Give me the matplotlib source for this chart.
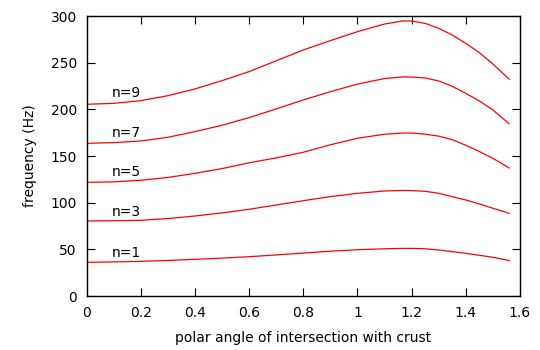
import matplotlib
matplotlib.use("Agg")
import matplotlib.pyplot as plt

angle = [0.0, 0.1, 0.2, 0.3, 0.4, 0.5, 0.6, 0.7, 0.8, 0.9, 1.0, 1.1, 1.17, 1.2, 1.25, 1.3, 1.35, 1.4, 1.45, 1.5, 1.56]
n1 = [36.1, 36.5, 37.1, 38.1, 39.3, 40.6, 42.1, 44.0, 46.0, 48.0, 49.6, 50.6, 51.0, 51.0, 50.6, 49.3, 47.5, 45.7, 43.6, 41.5, 38.0]
n3 = [80.4, 80.6, 81.1, 83.0, 85.7, 89.0, 92.9, 97.5, 102.1, 106.5, 110.0, 112.5, 113.1, 112.9, 112.2, 110.0, 106.4, 102.9, 98.6, 94.0, 88.6]
n5 = [121.8, 122.3, 124.0, 127.0, 131.4, 136.5, 142.7, 148.0, 154.0, 162.0, 169.0, 173.3, 174.6, 174.6, 173.4, 171.3, 167.5, 161.5, 154.8, 147.5, 137.2]
n7 = [163.6, 164.3, 166.1, 170.0, 176.1, 182.9, 191.1, 200.4, 210.0, 218.9, 227.0, 233.0, 234.8, 234.6, 233.6, 230.4, 224.6, 217.1, 209.0, 199.3, 184.5]
n9 = [205.4, 206.4, 209.3, 214.6, 221.8, 230.7, 240.4, 252.0, 263.6, 273.6, 283.2, 291.4, 294.8, 294.6, 292.1, 286.8, 279.6, 270.7, 260.7, 248.6, 232.3]
series = [n1, n3, n5, n7, n9]
labels = ["n=1", "n=3", "n=5", "n=7", "n=9"]
label_y = [46.4, 90.4, 132.9, 174.6, 217.0]
xticks = [0, 0.2, 0.4, 0.6, 0.8, 1, 1.2, 1.4, 1.6]
xticklabels = ["0", "0.2", "0.4", "0.6", "0.8", "1", "1.2", "1.4", "1.6"]
yticks = [0, 50, 100, 150, 200, 250, 300]

plt.rcParams['font.family'] = ['DejaVu Sans']
plt.rcParams['font.size'] = 10

fig = plt.figure(figsize=(5.4, 3.5), dpi=100)
ax = fig.add_axes([86.5/540, 1 - 296/350, (520-86.5)/540, (296-16)/350])

for s in series:
    ax.plot(angle, s, color='#ff0000', lw=0.9)
for lab, ly in zip(labels, label_y):
    ax.text(0.093, ly, lab, ha='left', va='center', fontsize=10)

ax.set_xlim(0, 1.6)
ax.set_ylim(0, 300)
ax.set_xticks(xticks)
ax.set_xticklabels(xticklabels)
ax.set_yticks(yticks)
ax.tick_params(direction='in', length=6, width=0.8, top=True, right=True, pad=7)
for sp in ax.spines.values():
    sp.set_linewidth(1.0)
ax.set_xlabel("polar angle of intersection with crust", labelpad=8)
ax.set_ylabel("frequency (Hz)", labelpad=10)

fig.savefig("out.png", dpi=100)
